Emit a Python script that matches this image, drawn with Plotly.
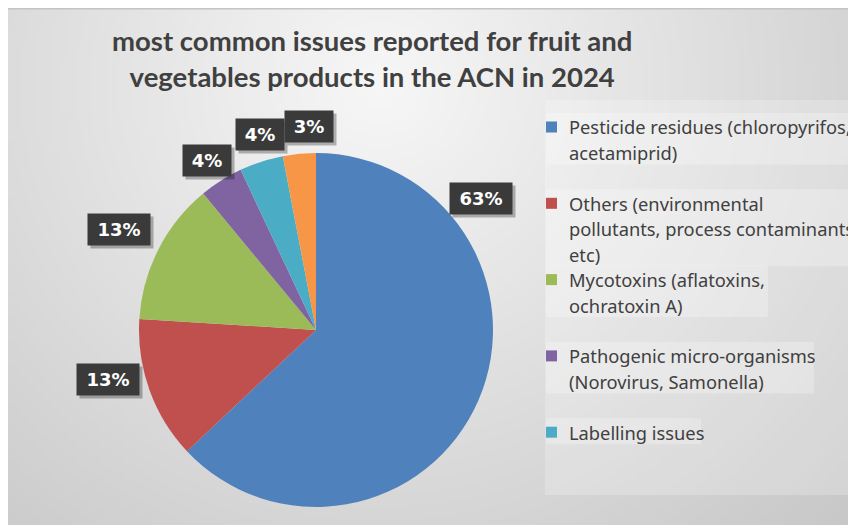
import math, zlib, struct, base64
import plotly.graph_objects as go

# ---------------- data ----------------
categories = [
    "Pesticide residues (chloropyrifos, acetamiprid)",
    "Others (environmental pollutants, process contaminants etc)",
    "Mycotoxins (aflatoxins, ochratoxin A)",
    "Pathogenic micro-organisms (Norovirus, Samonella)",
    "Labelling issues",
    "Other issues",
]
values = [63, 13, 13, 4, 4, 3]
legend_lines = [
    ["Pesticide residues (chloropyrifos,", "acetamiprid)"],
    ["Others (environmental", "pollutants, process contaminants,", "etc)"],
    ["Mycotoxins (aflatoxins,", "ochratoxin A)"],
    ["Pathogenic micro-organisms", "(Norovirus, Samonella)"],
    ["Labelling issues"],
]
title_text = "most common issues reported for fruit and<br>vegetables products in the ACN in 2024"

# ---------------- style ----------------
colors = ["#4F81BD", "#C0504D", "#9BBB59", "#8064A2", "#4BACC6", "#F79646"]
W, H = 848, 525
AX0, AY0 = 8, 8                     # chart area starts here (white border above/left)
CX, CY, R = 316, 330, 177           # pie centre / radius in px
label_frac = [0.227, 0.635, 0.50, 0.48, 0.65, 0.81]   # where along each slice the label sits
label_dist = [1.19, 1.21, 1.25, 1.14, 1.15, 1.15]     # label distance in radii
legend_right = [848, 848, 768, 814, 701]

def px(x):
    return x / W

def py(y):
    return 1 - y / H

# ---------------- background gradient image ----------------
def gradient_png(w, h):
    aw, ah = W - AX0, H - AY0
    sx, sy = aw / w, ah / h
    rows = []
    for j in range(h):
        row = bytearray([0])
        yy = AY0 + (j + 0.5) * sy
        for i in range(w):
            xx = AX0 + (i + 0.5) * sx
            d = math.hypot(xx - 380, (yy - 85) * 1.05)
            v = 247 - 0.072 * d
            v = max(192, min(249, v))
            row.append(int(v))
        rows.append(bytes(row))
    raw = b"".join(rows)

    def chunk(tag, data):
        c = struct.pack(">I", len(data)) + tag + data
        return c + struct.pack(">I", zlib.crc32(tag + data) & 0xFFFFFFFF)

    png = b"\x89PNG\r\n\x1a\n"
    png += chunk(b"IHDR", struct.pack(">IIBBBBB", w, h, 8, 0, 0, 0, 0))
    png += chunk(b"IDAT", zlib.compress(raw, 9))
    png += chunk(b"IEND", b"")
    return "data:image/png;base64," + base64.b64encode(png).decode()

bg_src = gradient_png(210, 130)

fig = go.Figure()
fig.add_trace(go.Pie(
    labels=categories,
    values=values,
    sort=False,
    direction="clockwise",
    rotation=0,
    marker=dict(colors=colors, line=dict(width=0)),
    textinfo="none",
    hoverinfo="label+percent",
    showlegend=False,
    domain=dict(x=[px(CX - R), px(CX + R)], y=[py(CY + R), py(CY - R)]),
))

annotations = []
shapes = []

# legend box
shapes.append(dict(type="rect", xref="paper", yref="paper", layer="below",
                   x0=px(545), x1=1.0, y0=py(495), y1=py(100),
                   fillcolor="rgba(255,255,255,0.22)", line=dict(width=0)))
# top shadow line
shapes.append(dict(type="line", xref="paper", yref="paper",
                   x0=px(AX0), x1=1, y0=py(AY0 + 0.7), y1=py(AY0 + 0.7),
                   line=dict(color="#c4c4c4", width=1.5)))

# data labels
total = sum(values)
cum = 0
for i, v in enumerate(values):
    ang = (cum + label_frac[i] * v) / total * 2 * math.pi
    cum += v
    lx = CX + R * label_dist[i] * math.sin(ang)
    ly = CY - R * label_dist[i] * math.cos(ang)
    txt = f"{round(v / total * 100)}%"
    wbox = 14 * len(txt) + 20
    common = dict(xref="paper", yref="paper", x=px(lx), y=py(ly), showarrow=False,
                  xanchor="center", yanchor="middle", width=wbox, height=31, borderpad=0)
    annotations.append(dict(text=" ", bgcolor="rgba(0,0,0,0.28)", xshift=3, yshift=-3,
                            font=dict(size=18), **common))
    annotations.append(dict(text=f"<b>{txt}</b>", bgcolor="#3a3a3a",
                            font=dict(family="DejaVu Sans", size=18, color="white"), **common))

# legend
for i, lines in enumerate(legend_lines):
    y_first = 127 + 76.3 * i
    y_last = y_first + 25.5 * (len(lines) - 1)
    shapes.append(dict(type="rect", xref="paper", yref="paper", layer="below",
                       x0=px(546), x1=px(legend_right[i]),
                       y0=py(y_last + 12), y1=py(y_first - 14),
                       fillcolor="rgba(255,255,255,0.25)", line=dict(width=0)))
    shapes.append(dict(type="rect", xref="paper", yref="paper",
                       x0=px(546), x1=px(557), y0=py(y_first + 5.5), y1=py(y_first - 5.5),
                       fillcolor=colors[i], line=dict(width=0)))
    for j, line in enumerate(lines):
        annotations.append(dict(text=line, xref="paper", yref="paper",
                                x=px(567), y=py(y_first + 25.5 * j),
                                xanchor="left", yanchor="middle", showarrow=False,
                                font=dict(family="Noto Sans", size=18.3, color="#404040")))

# title
annotations.append(dict(text=title_text, xref="paper", yref="paper",
                        x=px(372), y=py(59), xanchor="center", yanchor="middle",
                        showarrow=False, align="center",
                        font=dict(family="Lato", size=27.5, color="#404040", weight="bold")))

fig.update_layout(
    width=W, height=H,
    margin=dict(l=0, r=0, t=0, b=0),
    paper_bgcolor="white",
    plot_bgcolor="white",
    annotations=annotations,
    shapes=shapes,
    images=[dict(source=bg_src, xref="paper", yref="paper",
                 x=px(AX0), y=py(AY0), sizex=(W - AX0) / W, sizey=(H - AY0) / H,
                 xanchor="left", yanchor="top", sizing="stretch", layer="below")],
)

fig.write_html(
    "out.html",
    config={"displayModeBar": False},
    post_script=("document.body.style.margin='0';"
                 "document.documentElement.style.overflow='hidden';"
                 "document.body.style.overflow='hidden';"),
)
